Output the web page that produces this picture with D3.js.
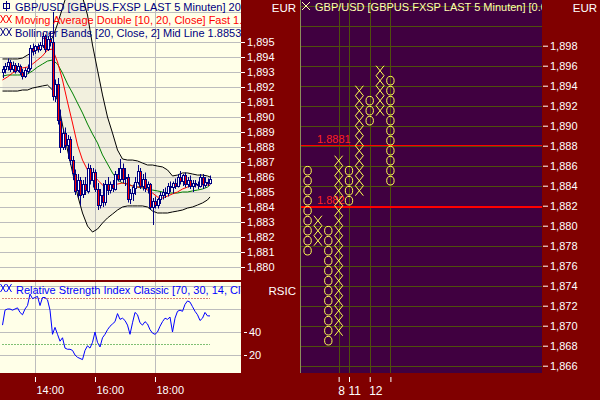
<!DOCTYPE html>
<html><head><meta charset="utf-8">
<script src="https://cdn.jsdelivr.net/npm/d3@7/dist/d3.min.js"></script>
<style>
html,body{margin:0;padding:0;background:#800000;}
svg{display:block;font-family:"Liberation Sans",Arial,sans-serif;}
</style></head><body>
<svg id="c" width="600" height="400"></svg>
<script>
// ---------------- DATA ----------------
const barStart = "12:55", barEnd = "19:50";   // 5-minute bars
const opens = [1.8930,1.8932,1.8934,1.8937,1.8932,1.8935,1.8931,1.8934,1.8930,1.8927,
1.8931,1.8933,1.8946,1.8944,1.8947,1.8945,1.8948,1.8954,1.8945,1.8952,
1.8950,1.8914,1.8922,1.8898,1.8880,1.8889,1.8881,1.8885,1.8871,1.8862,
1.8851,1.8858,1.8848,1.8855,1.8851,1.8866,1.8858,1.8863,1.8852,1.8841,
1.8848,1.8843,1.8855,1.8851,1.8855,1.8852,1.8862,1.8859,1.8866,1.8859,
1.8860,1.8845,1.8849,1.8853,1.8857,1.8864,1.8854,1.8859,1.8853,1.8855,
1.8840,1.8844,1.8841,1.8845,1.8848,1.8850,1.8849,1.8854,1.8853,1.8856,
1.8854,1.8860,1.8857,1.8861,1.8855,1.8858,1.8854,1.8856,1.8855,1.8854,
1.8860,1.8855,1.8857,1.8856];
const highs = [1.8934,1.8936,1.8939,1.8938,1.8937,1.8936,1.8936,1.8935,1.8932,1.8933,
1.8935,1.8948,1.8949,1.8948,1.8949,1.8950,1.8956,1.8955,1.8954,1.8957,
1.8970,1.8925,1.8926,1.8905,1.8892,1.8893,1.8888,1.8887,1.8874,1.8865,
1.8862,1.8860,1.8858,1.8860,1.8869,1.8868,1.8866,1.8865,1.8856,1.8852,
1.8856,1.8858,1.8860,1.8857,1.8858,1.8864,1.8866,1.8872,1.8869,1.8866,
1.8862,1.8852,1.8855,1.8860,1.8868,1.8866,1.8862,1.8863,1.8857,1.8856,
1.8846,1.8847,1.8846,1.8850,1.8852,1.8853,1.8856,1.8857,1.8857,1.8859,
1.8862,1.8864,1.8862,1.8863,1.8860,1.8861,1.8858,1.8858,1.8857,1.8862,
1.8862,1.8860,1.8859,1.8861];
const lows = [1.8926,1.8929,1.8931,1.8930,1.8930,1.8929,1.8930,1.8928,1.8925,1.8926,
1.8929,1.8931,1.8941,1.8942,1.8943,1.8944,1.8946,1.8943,1.8944,1.8947,
1.8911,1.8910,1.8895,1.8876,1.8878,1.8878,1.8872,1.8868,1.8858,1.8848,
1.8846,1.8841,1.8846,1.8848,1.8849,1.8855,1.8853,1.8850,1.8838,1.8839,
1.8840,1.8841,1.8848,1.8849,1.8850,1.8851,1.8857,1.8857,1.8856,1.8854,
1.8843,1.8842,1.8844,1.8848,1.8855,1.8852,1.8851,1.8850,1.8849,1.8838,
1.8828,1.8839,1.8839,1.8842,1.8845,1.8846,1.8847,1.8850,1.8849,1.8852,
1.8853,1.8855,1.8854,1.8853,1.8853,1.8852,1.8850,1.8853,1.8852,1.8853,
1.8852,1.8853,1.8854,1.8855];
const closes = [1.8932,1.8934,1.8937,1.8932,1.8935,1.8931,1.8934,1.8930,1.8927,1.8931,
1.8933,1.8946,1.8944,1.8947,1.8945,1.8948,1.8954,1.8945,1.8952,1.8950,
1.8914,1.8922,1.8898,1.8880,1.8889,1.8881,1.8885,1.8871,1.8862,1.8851,
1.8858,1.8848,1.8855,1.8851,1.8866,1.8858,1.8863,1.8852,1.8841,1.8848,
1.8843,1.8855,1.8851,1.8855,1.8852,1.8862,1.8859,1.8866,1.8859,1.8860,
1.8845,1.8849,1.8853,1.8857,1.8864,1.8854,1.8859,1.8853,1.8855,1.8840,
1.8844,1.8841,1.8845,1.8848,1.8850,1.8849,1.8854,1.8853,1.8856,1.8854,
1.8860,1.8857,1.8861,1.8855,1.8858,1.8854,1.8856,1.8855,1.8854,1.8860,
1.8855,1.8857,1.8856,1.8859];

// indicator samples (bar index -> value)
const indBars = [0,2,4,6,8,10,12,14,16,18,20,22,24,26,28,30,32,34,36,38,40,42,44,46,48,50,52,54,56,58,60,62,64,66,68,70,72,74,76,78,80,82,83];
const upperBand = [1.89387,1.89387,1.89387,1.89387,1.89393,1.89413,1.89433,1.89447,1.89473,1.89500,
1.89527,1.89620,1.89727,1.89833,1.89900,1.89880,1.89800,1.89680,1.89480,1.89313,
1.89147,1.89000,1.88893,1.88780,1.88720,1.88713,1.88713,1.88707,1.88693,1.88680,
1.88680,1.88673,1.88667,1.88647,1.88607,1.88613,1.88627,1.88627,1.88620,1.88613,
1.88613,1.88607,1.88600];
const lowerBand = [1.89173,1.89173,1.89173,1.89173,1.89180,1.89180,1.89193,1.89200,1.89207,1.89213,
1.89180,1.89113,1.88947,1.88780,1.88633,1.88480,1.88360,1.88273,1.88233,1.88253,
1.88293,1.88327,1.88353,1.88380,1.88400,1.88407,1.88407,1.88407,1.88407,1.88400,
1.88373,1.88360,1.88360,1.88360,1.88367,1.88373,1.88380,1.88393,1.88400,1.88413,
1.88427,1.88447,1.88467];
const fastMA = [1.89247,1.89267,1.89293,1.89313,1.89327,1.89333,1.89353,1.89380,1.89407,1.89447,
1.89453,1.89367,1.89247,1.89100,1.88960,1.88813,1.88713,1.88647,1.88620,1.88580,
1.88547,1.88540,1.88540,1.88553,1.88560,1.88553,1.88540,1.88533,1.88533,1.88513,
1.88493,1.88467,1.88460,1.88473,1.88487,1.88500,1.88520,1.88533,1.88547,1.88547,
1.88547,1.88547,1.88547];
const slowMA = [1.89273,1.89280,1.89280,1.89280,1.89280,1.89287,1.89307,1.89333,1.89353,1.89373,
1.89380,1.89353,1.89293,1.89220,1.89160,1.89093,1.89027,1.88953,1.88887,1.88827,
1.88747,1.88687,1.88627,1.88580,1.88560,1.88553,1.88540,1.88533,1.88527,1.88527,
1.88513,1.88507,1.88500,1.88493,1.88493,1.88493,1.88500,1.88500,1.88507,1.88513,
1.88520,1.88533,1.88547];
const rsi = [46,59,60,60,59,60,61,57,55,60,
63,73,69,70,71,63,70,70,68,59,
38,44,38,32,35,26,25,25,24,20,
18,17,16,24,28,26,31,40,31,27,
35,38,42,45,47,49,56,51,52,50,
46,38,48,57,55,48,46,49,47,42,
39,38,40,45,49,52,51,53,40,52,
58,59,58,64,67,66,62,58,55,50,
52,57,54,54];
const rsiLevels = [70, 30];

const leftPriceTicks = [1.880,1.881,1.882,1.883,1.884,1.885,1.886,1.887,1.888,1.889,1.890,1.891,1.892,1.893,1.894,1.895];
const rsiTicks = [20, 40];
const timeTicks = ["14:00","16:00","18:00"];

// Point & Figure
const pfType = ["O","X","O","X","O","X","O","X","O"];
const pfHigh = [1.8855,1.8805,1.8795,1.8865,1.8855,1.8935,1.8925,1.8955,1.8945];
const pfLow  = [1.8775,1.8785,1.8685,1.8695,1.8825,1.8835,1.8905,1.8915,1.8845];
const pfBox = 0.001;
const pfTickCols = [3,4,6,8];
const pfTickLabels = ["8","11","12",""];
const rightPriceTicks = [1.866,1.868,1.870,1.872,1.874,1.876,1.878,1.880,1.882,1.884,1.886,1.888,1.890,1.892,1.894,1.896,1.898];
const pfLevels = [1.8881, 1.882];
const pfLevelLabels = ["1.8881", "1.882"];

// ---------------- DRAW ----------------
const svg = d3.select("#c");
const FONT = '"Liberation Sans",Arial,sans-serif';
svg.append("rect").attr("width",600).attr("height",400).attr("fill","#800000");
const defs = svg.append("defs");
function clip(id,x,y,w,h){ defs.append("clipPath").attr("id",id).append("rect").attr("x",x).attr("y",y).attr("width",w).attr("height",h); }
clip("cMain",0,0,241,280); clip("cRsi",0,282,241,91); clip("cPf",301,0,241,373);

const parse = d3.timeParse("%H:%M");
const barTimes = d3.timeMinute.every(5).range(parse(barStart), d3.timeMinute.offset(parse(barEnd),1));
const x = d3.scaleTime().domain([parse("14:00"), parse("16:00")]).range([35,95]);
const yP = d3.scaleLinear().domain([1.880,1.895]).range([267,42]);
const yR = d3.scaleLinear().domain([20,40]).range([355,332]);
const crisp = v => Math.round(v)+0.5;

// ---- main price panel ----
const gM = svg.append("g").attr("clip-path","url(#cMain)");
gM.append("rect").attr("x",0).attr("y",0).attr("width",241).attr("height",280).attr("fill","#ffffe8");
const indT = indBars.map(i=>barTimes[i]);
gM.append("path").datum(upperBand)
  .attr("d", d3.area().x((d,i)=>x(indT[i])).y0((d,i)=>yP(lowerBand[i])).y1(d=>yP(d)))
  .attr("fill","#f2f0de");
const gridL = d3.ticks(yP.invert(280), yP.invert(0), 20);
gM.selectAll(".hg").data(gridL).join("line")
  .attr("x1",0).attr("x2",241).attr("y1",d=>crisp(yP(d))).attr("y2",d=>crisp(yP(d)))
  .attr("stroke","#bdbdbd").attr("stroke-width",1);
gM.selectAll(".vg").data(timeTicks).join("line")
  .attr("x1",d=>crisp(x(parse(d)))).attr("x2",d=>crisp(x(parse(d)))).attr("y1",0).attr("y2",280)
  .attr("stroke","#bdbdbd");
const lineGen = arr => d3.line().x((d,i)=>x(indT[i])).y(d=>yP(d))(arr);
gM.append("path").attr("d",lineGen(upperBand)).attr("fill","none").attr("stroke","#000").attr("stroke-width",1);
gM.append("path").attr("d",lineGen(lowerBand)).attr("fill","none").attr("stroke","#000").attr("stroke-width",1);
gM.append("path").attr("d",lineGen(slowMA)).attr("fill","none").attr("stroke","#008000").attr("stroke-width",1);
gM.append("path").attr("d",lineGen(fastMA)).attr("fill","none").attr("stroke","#ff0000").attr("stroke-width",1);

// candles
const candles = barTimes.map((t,i)=>({t,o:opens[i],h:highs[i],l:lows[i],c:closes[i]}));
const gC = gM.append("g");
gC.selectAll(".w").data(candles).join("line")
  .attr("x1",d=>Math.round(x(d.t))+0.5).attr("x2",d=>Math.round(x(d.t))+0.5)
  .attr("y1",d=>yP(d.h)).attr("y2",d=>yP(d.l)).attr("stroke","#000080").attr("stroke-width",1);
gC.selectAll(".b").data(candles).join("rect")
  .attr("x",d=>Math.round(x(d.t))-0.5).attr("width",2)
  .attr("y",d=>Math.round(yP(Math.max(d.o,d.c)))+0.5)
  .attr("height",d=>Math.max(1,Math.round(Math.abs(yP(d.o)-yP(d.c)))))
  .attr("fill",d=>d.c<d.o?"#ff0000":"#ffffff").attr("stroke","#000080").attr("stroke-width",1);

// legends
function xxIcon(g, x0, y0, color){
  g.append("path").attr("d",`M${x0},${y0}L${x0+5},${y0+8}M${x0},${y0+8}L${x0+5},${y0}M${x0+6},${y0}L${x0+11},${y0+8}M${x0+6},${y0+8}L${x0+11},${y0}`)
   .attr("stroke",color).attr("fill","none").attr("stroke-width",1);
}
gM.append("rect").attr("x",3.5).attr("y",3.5).attr("width",6).attr("height",5).attr("fill","none").attr("stroke","#000080");
gM.append("line").attr("x1",6.5).attr("x2",6.5).attr("y1",1).attr("y2",11).attr("stroke","#000080");
gM.append("text").attr("x",15).attr("y",10.5).attr("fill","#000080").attr("font-size",11).attr("font-family",FONT)
  .text("GBP/USD [GBPUS.FXSP LAST 5 Minuten] 2009");
xxIcon(gM,0.5,15,"#ff0000");
gM.append("text").attr("x",15).attr("y",23.5).attr("fill","#ff0000").attr("font-size",11).attr("font-family",FONT)
  .text("Moving Average Double [10, 20, Close] Fast 1.8857");
xxIcon(gM,0.5,28,"#000080");
gM.append("text").attr("x",15).attr("y",36.5).attr("fill","#000080").attr("font-size",11).attr("font-family",FONT)
  .text("Bollinger Bands [20, Close, 2] Mid Line 1.88535");

// ---- RSI panel ----
const gR = svg.append("g").attr("clip-path","url(#cRsi)");
gR.append("rect").attr("x",0).attr("y",282).attr("width",241).attr("height",91).attr("fill","#ffffe8");
gR.selectAll(".hg").data([20,40,60,80]).join("line")
  .attr("x1",0).attr("x2",241).attr("y1",d=>crisp(yR(d))).attr("y2",d=>crisp(yR(d))).attr("stroke","#bdbdbd");
gR.selectAll(".vg").data(timeTicks).join("line")
  .attr("x1",d=>crisp(x(parse(d)))).attr("x2",d=>crisp(x(parse(d)))).attr("y1",282).attr("y2",373).attr("stroke","#bdbdbd");
gR.selectAll(".lv").data(rsiLevels).join("line")
  .attr("x1",x(barTimes[0])).attr("x2",x(barTimes[barTimes.length-1]))
  .attr("y1",d=>crisp(yR(d))).attr("y2",d=>crisp(yR(d)))
  .attr("stroke",d=>d>50?"#b00000":"#008000").attr("stroke-dasharray","1,2");
gR.append("path").attr("d",d3.line().x((d,i)=>x(barTimes[i])).y(d=>yR(d))(rsi))
  .attr("fill","none").attr("stroke","#0000ff").attr("stroke-width",1);
xxIcon(gR,0.5,284,"#0000ff");
gR.append("text").attr("x",16).attr("y",293.5).attr("fill","#0000ff").attr("font-size",11).attr("font-family",FONT)
  .text("Relative Strength Index Classic [70, 30, 14, Close]");

// ---- left axes ----
const fmt = v => d3.format(".3f")(v).replace(".",",");
function styleAxis(g){
  g.attr("font-family",FONT).attr("font-size",11);
  g.select(".domain").remove();
  g.selectAll("line").attr("stroke","#fff");
  g.selectAll("text").attr("fill","#fff");
}
svg.append("g").attr("transform","translate(241,0)")
  .call(d3.axisRight(yP).tickValues(leftPriceTicks).tickSize(4).tickPadding(2).tickFormat(fmt)).call(styleAxis);
svg.append("g").attr("transform","translate(244,0)")
  .call(d3.axisRight(yR).tickValues(rsiTicks).tickSize(3).tickPadding(2)).call(styleAxis);
const axT = svg.append("g").attr("transform","translate(0,377)")
  .call(d3.axisBottom(x).tickValues(timeTicks.map(parse)).tickSize(5).tickFormat(d3.timeFormat("%H:%M"))).call(styleAxis);
axT.selectAll("text").attr("text-anchor","start").attr("x",1).attr("y",17).attr("dy",0);
svg.append("text").attr("x",296).attr("y",12).attr("text-anchor","end").attr("fill","#fff").attr("font-size",11.5).attr("font-family",FONT).text("EUR");
svg.append("text").attr("x",296).attr("y",295).attr("text-anchor","end").attr("fill","#fff").attr("font-size",11.5).attr("font-family",FONT).text("RSIC");

// ---- Point & Figure panel ----
const xPF = d3.scaleLinear().domain([0,8]).range([307.6,390.4]);
const yPF = d3.scaleLinear().domain([1.866,1.898]).range([365.7,45.7]);
const gP = svg.append("g").attr("clip-path","url(#cPf)");
gP.append("rect").attr("x",301).attr("y",0).attr("width",241).attr("height",373).attr("fill","#400040");
const gridR = d3.ticks(yPF.invert(373), yPF.invert(0), 20);
gP.selectAll(".hg").data(gridR).join("line")
  .attr("x1",301).attr("x2",542).attr("y1",d=>crisp(yPF(d))).attr("y2",d=>crisp(yPF(d))).attr("stroke","#4f4f0c");
gP.selectAll(".vg").data(pfTickCols).join("line")
  .attr("x1",d=>crisp(xPF(d))).attr("x2",d=>crisp(xPF(d))).attr("y1",0).attr("y2",373).attr("stroke","#4f4f0c");
pfLevels.forEach((v,i)=>{
  gP.append("line").attr("x1",301).attr("x2",542)
    .attr("y1",i===0?crisp(yPF(v)):Math.round(yPF(v))+1).attr("y2",i===0?crisp(yPF(v)):Math.round(yPF(v))+1)
    .attr("stroke","#ff0000").attr("stroke-width",i===0?1:2);
  gP.append("text").attr("x",317).attr("y",Math.round(yPF(v))-2).attr("fill","#ff2020").attr("font-size",11).attr("font-family",FONT).text(pfLevelLabels[i]);
});
const boxes = [];
pfType.forEach((t,c)=>{
  const n = Math.round((pfHigh[c]-pfLow[c])/pfBox)+1;
  for(let k=0;k<n;k++) boxes.push({t, c, v: pfHigh[c]-k*pfBox});
});
const yellow = "#ffff50";
gP.selectAll(".o").data(boxes.filter(b=>b.t==="O")).join("ellipse")
  .attr("cx",d=>xPF(d.c)).attr("cy",d=>yPF(d.v)).attr("rx",3.7).attr("ry",4.3)
  .attr("fill","none").attr("stroke",yellow).attr("stroke-width",1);
gP.selectAll(".x").data(boxes.filter(b=>b.t==="X")).join("path")
  .attr("d",d=>{const cx=xPF(d.c), cy=yPF(d.v); return `M${cx-4},${cy-5}L${cx+4},${cy+5}M${cx-4},${cy+5}L${cx+4},${cy-5}`;})
  .attr("fill","none").attr("stroke",yellow).attr("stroke-width",1);
gP.append("path").attr("d","M302,2L310,10M302,10L310,2").attr("stroke","#ffffb0").attr("fill","none");
gP.append("text").attr("x",315).attr("y",10.5).attr("fill","#ffffb0").attr("font-size",11).attr("font-family",FONT)
  .text("GBP/USD [GBPUS.FXSP LAST 5 Minuten] [0.001]");
svg.append("line").attr("x1",300.5).attr("x2",300.5).attr("y1",0).attr("y2",373).attr("stroke","#8c8c5c");

svg.append("g").attr("transform","translate(543,0)")
  .call(d3.axisRight(yPF).tickValues(rightPriceTicks).tickSize(5).tickPadding(2).tickFormat(fmt)).call(styleAxis);
const axPF = svg.append("g").attr("transform","translate(0,377)")
  .call(d3.axisBottom(xPF).tickValues(pfTickCols).tickSize(5).tickFormat((d,i)=>pfTickLabels[i])).call(styleAxis);
axPF.selectAll("text").attr("text-anchor","start").attr("x",-1).attr("y",18).attr("dy",0).attr("font-size",12);
svg.append("text").attr("x",597).attr("y",12).attr("text-anchor","end").attr("fill","#fff").attr("font-size",11.5).attr("font-family",FONT).text("EUR");
</script>
</body></html>
